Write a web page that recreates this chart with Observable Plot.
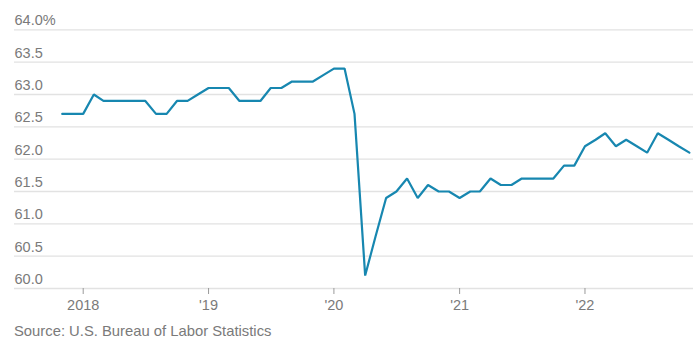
<!DOCTYPE html>
<html>
<head>
<meta charset="utf-8">
<script src="https://cdn.jsdelivr.net/npm/d3@7"></script>
<script src="https://cdn.jsdelivr.net/npm/@observablehq/plot@0.6"></script>
<style>
  body { margin: 0; background: #fff; font-family: "Liberation Sans", Arial, sans-serif; }
  #caption { margin: 5px 0 0 14px; font-size: 14.8px; line-height: 16px; color: #7a7a7a; }
</style>
</head>
<body>
<div id="chart"></div>
<div id="caption">Source: U.S. Bureau of Labor Statistics</div>
<script>
const startMonth = "2017-11-01";
const rates = [
  62.7, 62.7,
  62.7, 63.0, 62.9, 62.9, 62.9, 62.9, 62.9, 62.7, 62.7, 62.9, 62.9, 63.0,
  63.1, 63.1, 63.1, 62.9, 62.9, 62.9, 63.1, 63.1, 63.2, 63.2, 63.2, 63.3,
  63.4, 63.4, 62.7, 60.2, 60.8, 61.4, 61.5, 61.7, 61.4, 61.6, 61.5, 61.5,
  61.4, 61.5, 61.5, 61.7, 61.6, 61.6, 61.7, 61.7, 61.7, 61.7, 61.9, 61.9,
  62.2, 62.3, 62.4, 62.2, 62.3, 62.2, 62.1, 62.4, 62.3, 62.2, 62.1
];
const yTicks = [60, 60.5, 61, 61.5, 62, 62.5, 63, 63.5, 64];
const yTickLabels = ["60.0", "60.5", "61.0", "61.5", "62.0", "62.5", "63.0", "63.5", "64.0%"];
const xTickYears = [2018, 2019, 2020, 2021, 2022];
const xTickLabels = ["2018", "'19", "'20", "'21", "'22"];

const start = new Date(startMonth + "T00:00:00Z");
const data = rates.map((v, i) => ({
  date: new Date(Date.UTC(start.getUTCFullYear(), start.getUTCMonth() + i, 1)),
  value: v
}));
const xTicks = xTickYears.map(y => new Date(Date.UTC(y, 0, 1)));
const yGrid = yTicks.map((v, i) => ({v, label: yTickLabels[i]}));

const chart = Plot.plot({
  width: 693,
  height: 318,
  marginLeft: 14,
  marginRight: 0,
  marginTop: 29.3,
  marginBottom: 30,
  style: {fontFamily: "'Liberation Sans', Arial, sans-serif", fontSize: "14.5px", color: "#7a7a7a", background: "#fff"},
  x: {type: "utc", domain: [new Date(Date.UTC(2017, 5, 15)), new Date(Date.UTC(2022, 10, 13))]},
  y: {domain: [60, 64], axis: null},
  marks: [
    Plot.ruleY(yGrid, {y: "v", stroke: "#e2e2e2", strokeWidth: 1.3}),
    Plot.text(yGrid, {y: "v", text: "label", frameAnchor: "left", textAnchor: "start", dy: -9, fill: "#7a7a7a", fontSize: 14.5}),
    Plot.axisX({ticks: xTicks, tickFormat: (d) => xTickLabels[xTicks.findIndex(t => +t === +d)], tickSize: 6, tickPadding: 5, stroke: "#9a9a9a", fill: "#7a7a7a", fontSize: 14.5, label: null}),
    Plot.line(data, {x: "date", y: "value", stroke: "#1787b0", strokeWidth: 2.2, strokeLinejoin: "miter"})
  ]
});
document.getElementById("chart").appendChild(chart);
</script>
</body>
</html>
